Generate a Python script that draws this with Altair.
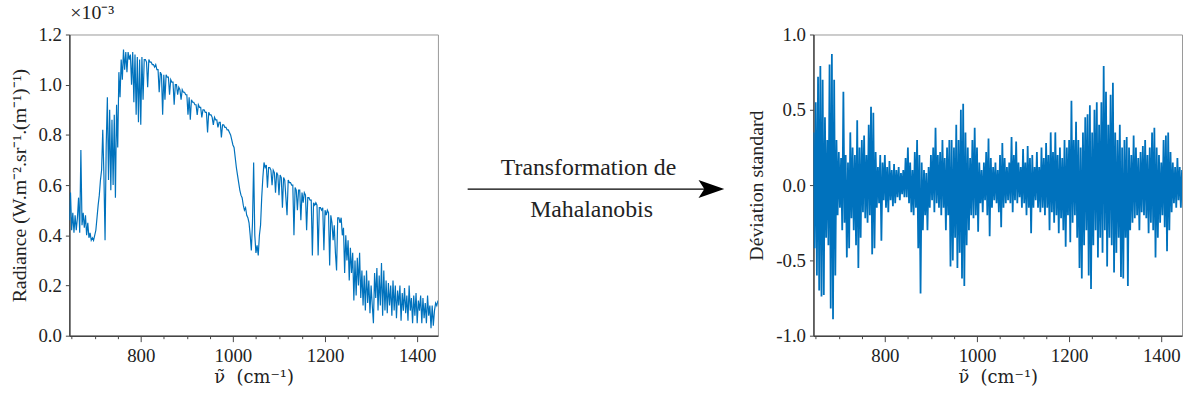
import altair as alt
import pandas as pd

# ---------------- data ----------------
WN_START = 645.0
WN_STEP = 2.5

# Radiance in units of 1e-3 W.m-2.sr-1.(m-1)-1, one value every 2.5 cm-1 from 645 to 1445
radiance = [
    0.46, 0.57, 0.42, 0.49, 0.41, 0.48, 0.42, 0.47, 0.55, 0.41, 0.74, 0.44, 0.49, 0.43, 0.48, 0.40, 0.45, 0.39, 0.41, 0.38,
    0.39, 0.38, 0.40, 0.42, 0.47, 0.52, 0.56, 0.62, 0.66, 0.82, 0.64, 0.38, 0.76, 0.95, 0.62, 0.90, 0.58, 0.86, 0.60, 0.88,
    0.55, 0.92, 0.75, 1.05, 0.95, 1.10, 1.02, 1.14, 1.06, 1.13, 1.05, 1.13, 1.10, 1.12, 1.00, 1.13, 0.93, 1.12, 0.88, 1.11,
    0.85, 1.10, 0.84, 1.11, 0.94, 1.10, 1.10, 1.09, 0.99, 1.10, 1.09, 1.09, 1.08, 1.08, 1.07, 1.08, 1.06, 1.06, 0.97, 1.05,
    1.04, 0.88, 1.04, 0.94, 1.04, 1.03, 1.03, 0.96, 1.02, 1.01, 1.01, 0.92, 1.00, 1.00, 0.96, 0.99, 0.98, 0.94, 0.98, 0.97,
    0.97, 0.96, 0.96, 0.88, 0.95, 0.86, 0.94, 0.93, 0.93, 0.92, 0.92, 0.88, 0.92, 0.91, 0.91, 0.87, 0.90, 0.90, 0.89, 0.89,
    0.81, 0.89, 0.88, 0.88, 0.87, 0.84, 0.87, 0.86, 0.86, 0.83, 0.85, 0.85, 0.79, 0.84, 0.84, 0.83, 0.83, 0.82, 0.82, 0.81,
    0.80, 0.78, 0.76, 0.75, 0.71, 0.67, 0.64, 0.61, 0.58, 0.56, 0.55, 0.52, 0.50, 0.51, 0.48, 0.47, 0.45, 0.40, 0.34, 0.45,
    0.69, 0.40, 0.33, 0.36, 0.32, 0.40, 0.44, 0.55, 0.63, 0.69, 0.67, 0.68, 0.59, 0.67, 0.67, 0.66, 0.60, 0.66, 0.65, 0.57,
    0.65, 0.64, 0.56, 0.64, 0.63, 0.51, 0.63, 0.62, 0.55, 0.48, 0.62, 0.61, 0.61, 0.60, 0.60, 0.40, 0.59, 0.58, 0.50, 0.58,
    0.58, 0.46, 0.57, 0.53, 0.57, 0.56, 0.42, 0.55, 0.55, 0.54, 0.54, 0.32, 0.53, 0.52, 0.53, 0.52, 0.32, 0.51, 0.51, 0.50,
    0.51, 0.34, 0.50, 0.48, 0.50, 0.49, 0.28, 0.48, 0.45, 0.38, 0.44, 0.33, 0.26, 0.47, 0.47, 0.45, 0.47, 0.40, 0.43, 0.25,
    0.40, 0.30, 0.38, 0.22, 0.35, 0.25, 0.33, 0.14, 0.30, 0.16, 0.31, 0.20, 0.33, 0.15, 0.26, 0.12, 0.24, 0.10, 0.26, 0.13,
    0.22, 0.09, 0.20, 0.12, 0.05, 0.25, 0.15, 0.27, 0.10, 0.24, 0.12, 0.29, 0.08, 0.26, 0.10, 0.22, 0.09, 0.21, 0.12, 0.20,
    0.08, 0.22, 0.10, 0.20, 0.07, 0.18, 0.12, 0.20, 0.06, 0.17, 0.10, 0.19, 0.09, 0.16, 0.06, 0.20, 0.10, 0.15, 0.05, 0.16,
    0.08, 0.17, 0.05, 0.14, 0.10, 0.16, 0.05, 0.15, 0.07, 0.13, 0.05, 0.16, 0.08, 0.12, 0.03, 0.12, 0.04, 0.10, 0.13, 0.12,
    0.14,
]

# Standardised deviation after the Mahalanobis transformation, same grid
deviation = [
    0.35, -0.42, 0.55, -0.60, 0.72, -0.70, 0.79, -0.74, 0.70, -0.73, 0.45, -0.35, 0.30, -0.40, 0.80, -0.82, 0.87, -0.89, 0.70, -0.60,
    0.30, -0.20, 0.22, -0.15, 0.18, -0.30, 0.62, -0.25, 0.20, -0.48, 0.15, -0.42, 0.35, -0.22, 0.25, -0.30, 0.20, -0.40, 0.43, -0.55,
    0.25, -0.35, 0.30, -0.18, 0.33, -0.22, 0.20, -0.25, 0.40, -0.20, 0.52, -0.46, 0.48, -0.42, 0.22, -0.15, 0.12, -0.12, 0.20, -0.37,
    0.15, -0.10, 0.20, -0.15, 0.12, -0.18, 0.16, -0.10, 0.10, -0.14, 0.14, -0.12, 0.10, -0.08, 0.12, -0.10, 0.08, -0.06, 0.10, -0.08,
    0.18, -0.08, 0.25, -0.12, 0.15, -0.18, 0.10, -0.20, 0.22, -0.15, 0.30, -0.42, 0.20, -0.72, 0.15, -0.30, 0.10, -0.20, 0.08, -0.30,
    0.12, -0.15, 0.20, -0.10, 0.25, -0.18, 0.38, -0.12, 0.20, -0.15, 0.22, -0.20, 0.30, -0.15, 0.18, -0.30, 0.25, -0.20, 0.30, -0.54,
    0.30, -0.50, 0.25, -0.35, 0.40, -0.55, 0.30, -0.45, 0.50, -0.62, 0.54, -0.67, 0.35, -0.40, 0.25, -0.30, 0.18, -0.20, 0.30, -0.22,
    0.38, -0.20, 0.25, -0.31, 0.15, -0.12, 0.10, -0.18, 0.15, -0.10, 0.22, -0.20, 0.31, -0.34, 0.18, -0.15, 0.12, -0.10, 0.15, -0.12,
    0.10, -0.18, 0.20, -0.28, 0.28, -0.15, 0.18, -0.12, 0.12, -0.10, 0.15, -0.12, 0.32, -0.18, 0.20, -0.10, 0.29, -0.12, 0.15, -0.08,
    0.12, -0.15, 0.24, -0.12, 0.15, -0.20, 0.26, -0.15, 0.18, -0.32, 0.20, -0.15, 0.12, -0.10, 0.22, -0.15, 0.12, -0.18, 0.25, -0.15,
    0.18, -0.20, 0.28, -0.15, 0.20, -0.30, 0.35, -0.18, 0.22, -0.25, 0.35, -0.20, 0.20, -0.32, 0.25, -0.22, 0.18, -0.30, 0.30, -0.41,
    0.25, -0.20, 0.30, -0.38, 0.56, -0.25, 0.30, -0.20, 0.42, -0.35, 0.30, -0.55, 0.25, -0.62, 0.35, -0.40, 0.45, -0.30, 0.47, -0.60,
    0.53, -0.69, 0.35, -0.40, 0.50, -0.30, 0.55, -0.48, 0.40, -0.35, 0.55, -0.45, 0.79, -0.30, 0.62, -0.54, 0.40, -0.35, 0.60, -0.40,
    0.68, -0.58, 0.35, -0.45, 0.30, -0.35, 0.40, -0.61, 0.25, -0.62, 0.30, -0.35, 0.32, -0.67, 0.25, -0.30, 0.20, -0.25, 0.33, -0.22,
    0.25, -0.20, 0.18, -0.30, 0.22, -0.18, 0.26, -0.20, 0.30, -0.22, 0.20, -0.32, 0.25, -0.25, 0.35, -0.30, 0.38, -0.48, 0.25, -0.35,
    0.20, -0.25, 0.15, -0.20, 0.30, -0.28, 0.33, -0.44, 0.35, -0.30, 0.22, -0.18, 0.15, -0.12, 0.12, -0.15, 0.18, -0.10, 0.12, -0.15,
    0.10,
]

x_ticks = [650, 700, 750, 800, 850, 900, 950, 1000, 1050, 1100, 1150, 1200, 1250, 1300, 1350, 1400]
rad_ticks = [0.0, 0.2, 0.4, 0.6, 0.8, 1.0, 1.2]
dev_ticks = [-1.0, -0.5, 0.0, 0.5, 1.0]
arrow_labels = ["Transformation de", "Mahalanobis"]

wavenumber = [WN_START + i * WN_STEP for i in range(len(radiance))]
df_rad = pd.DataFrame({"wn": wavenumber, "val": radiance})
df_dev = pd.DataFrame({"wn": wavenumber, "val": deviation})

# ---------------- style ----------------
FONT = "Liberation Serif"
BLUE = "#0072BD"
TXT = "#222222"
PLOT_W, PLOT_H = 372, 304

x_scale = alt.Scale(domain=[645, 1445], nice=False, zero=False)
X_TITLE = "ν̃\u00a0\u00a0(cm⁻¹)"


def x_axis():
    return alt.Axis(
        values=x_ticks,
        labelExpr="datum.value % 200 === 0 ? format(datum.value, 'd') : ''",
        tickSize={"condition": {"test": "datum.value % 200 === 0", "value": 6}, "value": 3},
        labelOverlap=False,
        labelFlush=False,
        title=X_TITLE,
        titleFont="DejaVu Serif",
        titleFontSize=18,
        titlePadding=3,
        labelPadding=5,
        grid=False,
    )


def top_title(color):
    return alt.TitleParams("×10⁻³", anchor="start", frame="group", fontSize=20, font=FONT,
                           fontWeight="normal", color=color, offset=3, dx=1)


left = (
    alt.Chart(df_rad)
    .mark_line(color=BLUE, strokeWidth=1.2, clip=True)
    .encode(
        x=alt.X("wn:Q", scale=x_scale, axis=x_axis()),
        y=alt.Y(
            "val:Q",
            scale=alt.Scale(domain=[0, 1.2], nice=False, zero=False),
            axis=alt.Axis(
                values=rad_ticks,
                format=".1f",
                title="Radiance (W.m⁻².sr⁻¹.(m⁻¹)⁻¹)",
                titleFontSize=20,
                titlePadding=9,
                labelPadding=4,
                tickSize=4,
                grid=False,
            ),
        ),
    )
    .properties(width=PLOT_W, height=PLOT_H, title=top_title(TXT))
)

right = (
    alt.Chart(df_dev)
    .mark_line(color=BLUE, strokeWidth=1.8, clip=True)
    .encode(
        x=alt.X("wn:Q", scale=x_scale, axis=x_axis()),
        y=alt.Y(
            "val:Q",
            scale=alt.Scale(domain=[-1, 1], nice=False, zero=False),
            axis=alt.Axis(
                values=dev_ticks,
                labelExpr="replace(format(datum.value, '.1f'), '−', '-')",
                title="Déviation standard",
                titleFontSize=20,
                titlePadding=9,
                labelPadding=4,
                tickSize=4,
                grid=False,
            ),
        ),
    )
    .properties(width=PLOT_W, height=PLOT_H, title=top_title("white"))
)

MID_W = 308
mid_df = pd.DataFrame({"label": arrow_labels})
arrow_head = "M-1,-0.7 L1,0 L-1,0.7 L-0.55,0 Z"

mid_text_top = alt.Chart(mid_df.head(1)).mark_text(
    font=FONT, fontSize=24, color=TXT, align="center", baseline="middle"
).encode(x=alt.value(150), y=alt.value(135), text="label:N")
mid_text_bottom = alt.Chart(mid_df.tail(1)).mark_text(
    font=FONT, fontSize=24, color=TXT, align="center", baseline="middle"
).encode(x=alt.value(153), y=alt.value(177), text="label:N")
mid_rule = alt.Chart(mid_df.head(1)).mark_rule(color="black", strokeWidth=1.3).encode(
    x=alt.value(28), x2=alt.value(275), y=alt.value(156)
)
mid_head = alt.Chart(mid_df.head(1)).mark_point(
    shape=arrow_head, filled=True, color="black", opacity=1, size=676
).encode(x=alt.value(274), y=alt.value(156))

middle = alt.layer(mid_rule, mid_head, mid_text_top, mid_text_bottom).properties(
    width=MID_W,
    height=PLOT_H,
    view=alt.ViewBackground(stroke="transparent"),
    title=top_title("white"),
)

chart = (
    alt.hconcat(left, middle, right, spacing=0)
    .properties(padding={"left": 8, "top": 0, "right": 0, "bottom": 2}, background="white")
    .configure_view(stroke="#999999", strokeWidth=1)
    .configure_axis(
        labelFont=FONT,
        titleFont=FONT,
        labelFontSize=19,
        labelColor=TXT,
        titleColor=TXT,
        titleFontWeight="normal",
        domainColor="#444444",
        domainWidth=1.5,
        tickColor="#444444",
        tickWidth=1,
    )
)

chart.save("out.html", embed_options={"renderer": "svg", "actions": False})
